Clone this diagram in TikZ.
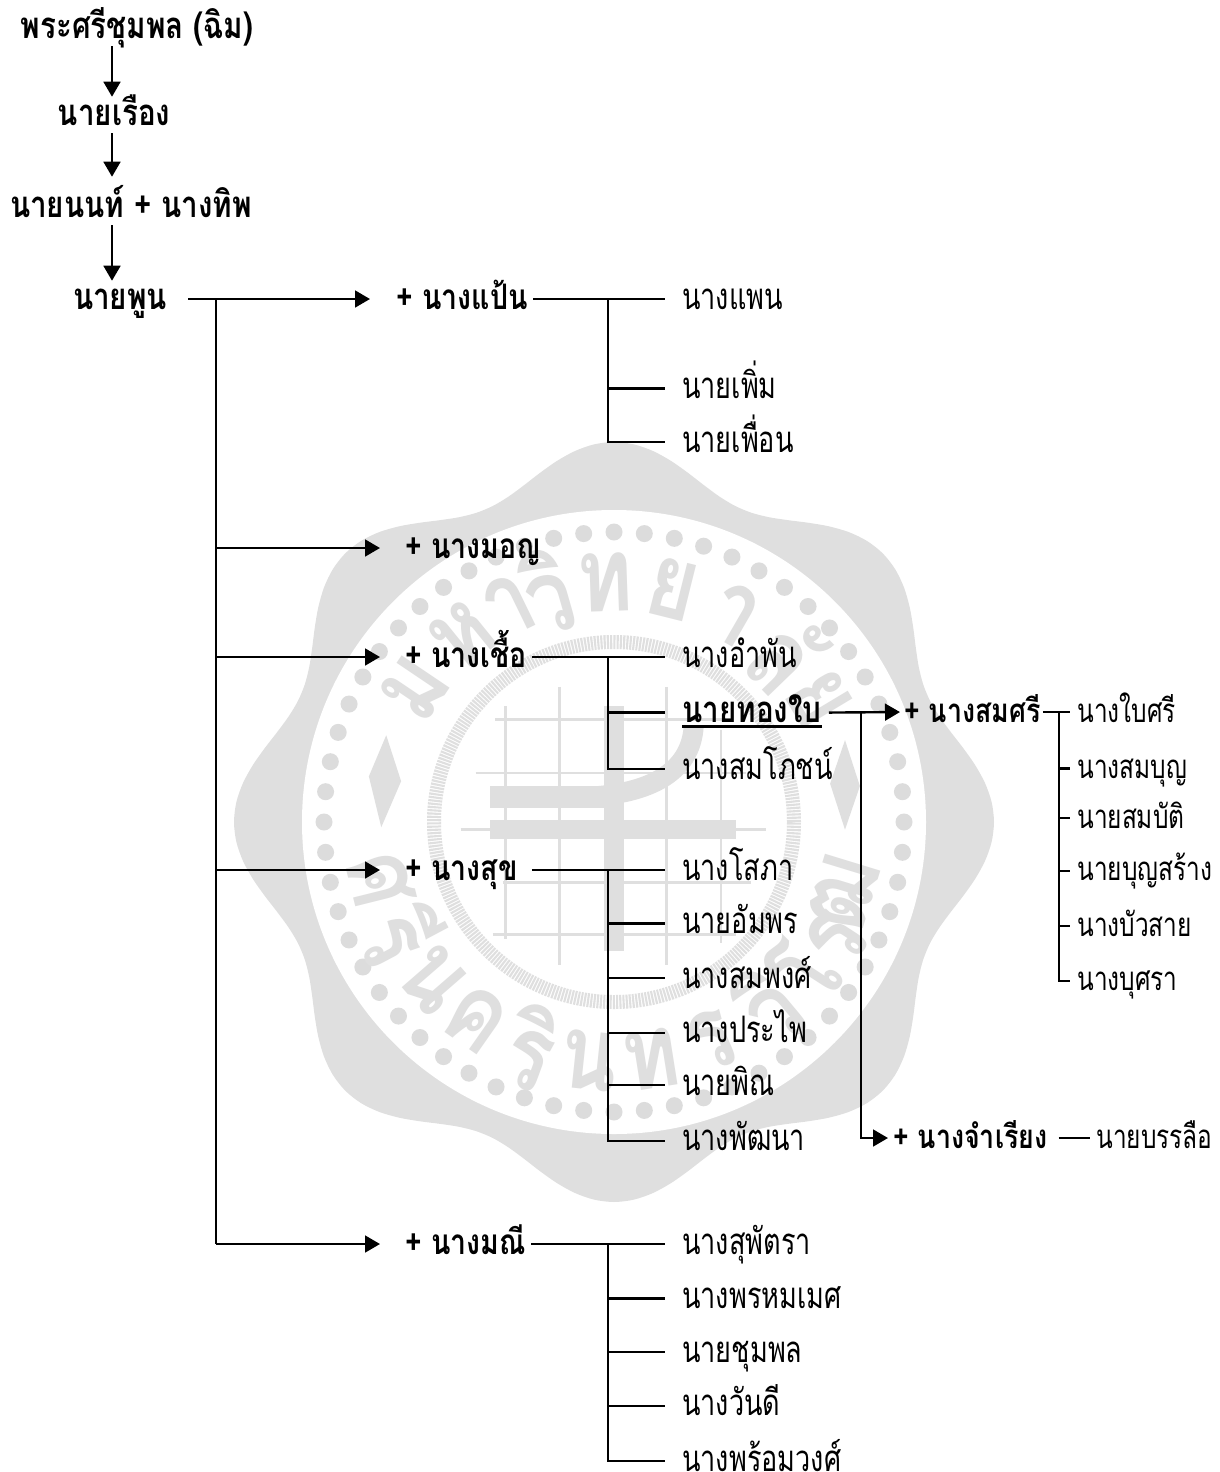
\documentclass[tikz,border=0pt]{standalone}
\usepackage{fontspec}
\setmainfont[Script=Thai,FakeStretch=.74]{Loma}
\newfontfamily\elderfont[Script=Thai,FakeStretch=.81]{Loma}
\usepackage{xcolor}
\usetikzlibrary{arrows.meta,positioning}
\definecolor{sealgrey}{HTML}{DFDFDF}
\definecolor{sealdot}{HTML}{DCDCDC}

\begin{document}
\begin{tikzpicture}[
    x=.25mm,y=-.25mm,
    person/.style={inner xsep=0pt,inner ysep=0pt,text height=7mm,text depth=2mm,
        font=\fontsize{26}{28}\selectfont},
    elder/.style={person,font=\fontsize{26}{28}\elderfont\bfseries},
    wife/.style={elder,anchor=west,font=\fontsize{25}{28}\elderfont\bfseries},
    wifenear/.style={wife,font=\fontsize{23.5}{28}\elderfont\bfseries},
    kid/.style={person,anchor=west,inner xsep=4.25mm},
    kidnear/.style={person,anchor=west,inner xsep=1.75mm,font=\fontsize{23.5}{28}\selectfont},
    conn/.style={line width=.6mm,draw=black},
    arrow/.style={conn,-{Triangle[length=3.75mm,width=4.2mm]}},
    sealmark/.style={text=sealgrey,inner sep=0pt,font=\fontsize{74}{74}\elderfont\bfseries}
]
\useasboundingbox (0,0) rectangle (1220,1472);

% seal behind the tree
\begin{scope}[shift={(614,822)},x=.25mm,y=.25mm]
    \fill[sealgrey] plot[smooth cycle,domain=0:357,samples=120] (\x:{359+21*cos(8*\x)});
    \fill[white] (0,0) circle (312);
    \foreach \a in {0,6,...,354}
        \fill[sealdot] (\a:290) circle (8.5);
    \draw[sealgrey,line width=3.5mm,dash pattern=on 1.5pt off .8pt] (0,0) circle (180);
    \foreach \t/\a in {ม/146,ห/129,า/116,วิ/106,ท/92,ย/76,า/60,ลั/44,ย/31}
        \node[sealmark,rotate=\a-90] (top\a) at (\a:240) {\t};
    \foreach \t/\a in {ศ/194,รี/208,น/221,ค/235,ริ/250,น/264,ท/279,ร/294,วิ/310,โร/327,ฒ/343}
        \node[sealmark,rotate=\a+90] (low\a) at (\a:240) {\t};
\end{scope}
\begin{scope}[shift={(230,440)},x=.124mm,y=-.121mm,sealgrey]
    \foreach \xa/\ya/\yb in {555/550/1030,665/510/1085,880/510/1085,990/600/1040}
        \draw[line width=.7mm] (\xa,\ya) -- (\xa,\yb);
    \foreach \ya/\xa/\xb in {578/535/1000,688/495/1040,805/465/1080,915/550/1050,1022/530/1020}
        \draw[line width=.7mm] (\xa,\ya) -- (\xb,\ya);
    \fill (755,550) rectangle (795,1055);
    \fill (525,785) rectangle (1020,825);
    \fill (525,715) rectangle (760,760);
    \draw[line width=5mm] (700,738) .. controls (840,735) and (930,690) .. (935,590);
    \fill (315,610) -- (345,705) -- (305,800) -- (280,695) -- cycle;
    \fill (1240,620) -- (1270,715) -- (1240,805) -- (1210,710) -- cycle;
\end{scope}

% ancestors
\node[elder] (root) at (137,28) {พระศรีชุมพล (ฉิม)};
\node[elder] (rueang) at (114,115) {นายเรือง};
\node[elder] (non) at (131,207) {นายนนท์ + นางทิพ};
\node[elder] (phun) at (120,299) {นายพูน};
\coordinate (spine) at (112,0);
\coordinate (trunk) at (216,299);
\coordinate (forka) at (608,0);
\coordinate (forkb) at (861,0);
\coordinate (forkc) at (1059,0);

% wives
\node[wife] (paen) at (396,299) {+ นางแป้น};
\node[wife] (mon) at (405,548) {+ นางมอญ};
\node[wife] (chuea) at (405,657) {+ นางเชื้อ};
\node[wife] (suk) at (405,870) {+ นางสุข};
\node[wife] (manee) at (405,1244) {+ นางมณี};

% children
\node[kid] (phaen) at (665,299) {นางแพน};
\node[kid,below right=13.25mm and 0mm of phaen.south west] (poem) {นายเพิ่ม};
\node[kid,below right=4.25mm and 0mm of poem.south west] (phuean) {นายเพื่อน};

\node[kid] (amphan) at (665,657) {นางอำพัน};
\node[kid,below right=4.75mm and 0mm of amphan.south west,font=\fontsize{26}{28}\elderfont\bfseries] (tongbai) {นายทองใบ};
\node[kid,below right=5mm and 0mm of tongbai.south west] (somphot) {นางสมโภชน์};

\node[kid] (sopha) at (665,870) {นางโสภา};
\node[kid,below right=4.25mm and 0mm of sopha.south west] (amphon) {นายอัมพร};
\node[kid,below right=4.5mm and 0mm of amphon.south west] (somphong) {นางสมพงศ์};
\node[kid,below right=4.5mm and 0mm of somphong.south west] (praphai) {นางประไพ};
\node[kid,below right=4mm and 0mm of praphai.south west] (phin) {นายพิณ};
\node[kid,below right=4.75mm and 0mm of phin.south west] (phatthana) {นางพัฒนา};

\node[kid] (suphat) at (665,1244) {นางสุพัตรา};
\node[kid,below right=4.5mm and 0mm of suphat.south west] (phrommet) {นางพรหมเมศ};
\node[kid,below right=4.25mm and 0mm of phrommet.south west] (chumphon) {นายชุมพล};
\node[kid,below right=4.25mm and 0mm of chumphon.south west] (wandi) {นางวันดี};
\node[kid,below right=4.75mm and 0mm of wandi.south west] (phromwong) {นางพร้อมวงศ์};

% second marriage line
\node[wifenear] (somsri) at (904,712) {+ นางสมศรี};
\node[wifenear] (chamriang) at (893,1138) {+ นางจำเรียง};
\node[kidnear] (baisri) at (1070,712) {นางใบศรี};
\node[kidnear,below right=5mm and 0mm of baisri.south west] (somboon) {นางสมบุญ};
\node[kidnear,below right=3.25mm and 0mm of somboon.south west] (sombat) {นายสมบัติ};
\node[kidnear,below right=4mm and 0mm of sombat.south west] (boonsang) {นายบุญสร้าง};
\node[kidnear,below right=4.75mm and 0mm of boonsang.south west] (buasai) {นางบัวสาย};
\node[kidnear,below right=4.5mm and 0mm of buasai.south west] (butsara) {นางบุศรา};
\node[kidnear,inner xsep=1.5mm] (banlue) at (1090,1138) {นายบรรลือ};

% descent
\draw[arrow] (root.south -| spine) -- (rueang.north -| spine);
\draw[arrow,shorten >=3mm] (rueang.south -| spine) -- (non.north -| spine);
\draw[arrow] (non.south -| spine) -- (phun.north -| spine);

\draw[arrow,shorten <=5.25mm,shorten >=6.5mm] (phun.east) -- (paen.west);
\draw[conn] (trunk) -- (manee.west -| trunk);
\draw[arrow,shorten >=6.25mm] (trunk |- mon) -- (mon.west);
\draw[arrow,shorten >=6.25mm] (trunk |- chuea) -- (chuea.west);
\draw[arrow,shorten >=6.25mm] (trunk |- suk) -- (suk.west);
\draw[arrow,shorten >=6.25mm] (trunk |- manee) -- (manee.west);

\draw[conn,shorten <=1.25mm] (paen.east) -- (phaen.west);
\draw[conn] (paen -| forka) |- (poem.west);
\draw[conn] (paen -| forka) |- (phuean.west);

\draw[conn,shorten <=1.25mm] (chuea.east) -- (amphan.west);
\draw[conn] (chuea -| forka) |- (tongbai.west);
\draw[conn] (chuea -| forka) |- (somphot.west);

\draw[conn,shorten <=3.5mm] (suk.east) -- (sopha.west);
\draw[conn] (suk -| forka) |- (amphon.west);
\draw[conn] (suk -| forka) |- (somphong.west);
\draw[conn] (suk -| forka) |- (praphai.west);
\draw[conn] (suk -| forka) |- (phin.west);
\draw[conn] (suk -| forka) |- (phatthana.west);

\draw[conn,shorten <=1.25mm] (manee.east) -- (suphat.west);
\draw[conn] (manee -| forka) |- (phrommet.west);
\draw[conn] (manee -| forka) |- (chumphon.west);
\draw[conn] (manee -| forka) |- (wandi.west);
\draw[conn] (manee -| forka) |- (phromwong.west);

\draw[conn] ([xshift=4.25mm,yshift=-1mm]tongbai.base west) -- ([xshift=-4.25mm,yshift=-1mm]tongbai.base east);
\draw[arrow,shorten >=1mm] ([xshift=-2.5mm]tongbai.east) -- (somsri.west);
\draw[arrow,shorten >=1.25mm] (tongbai -| forkb) |- (chamriang.west);

\draw[conn,shorten <=.5mm] (somsri.east) -- (baisri.west);
\draw[conn] (somsri -| forkc) |- (somboon.west);
\draw[conn] (somsri -| forkc) |- (sombat.west);
\draw[conn] (somsri -| forkc) |- (boonsang.west);
\draw[conn] (somsri -| forkc) |- (buasai.west);
\draw[conn] (somsri -| forkc) |- (butsara.west);

\draw[conn,shorten <=2.75mm] (chamriang.east) -- (banlue.west);
\end{tikzpicture}
\end{document}
